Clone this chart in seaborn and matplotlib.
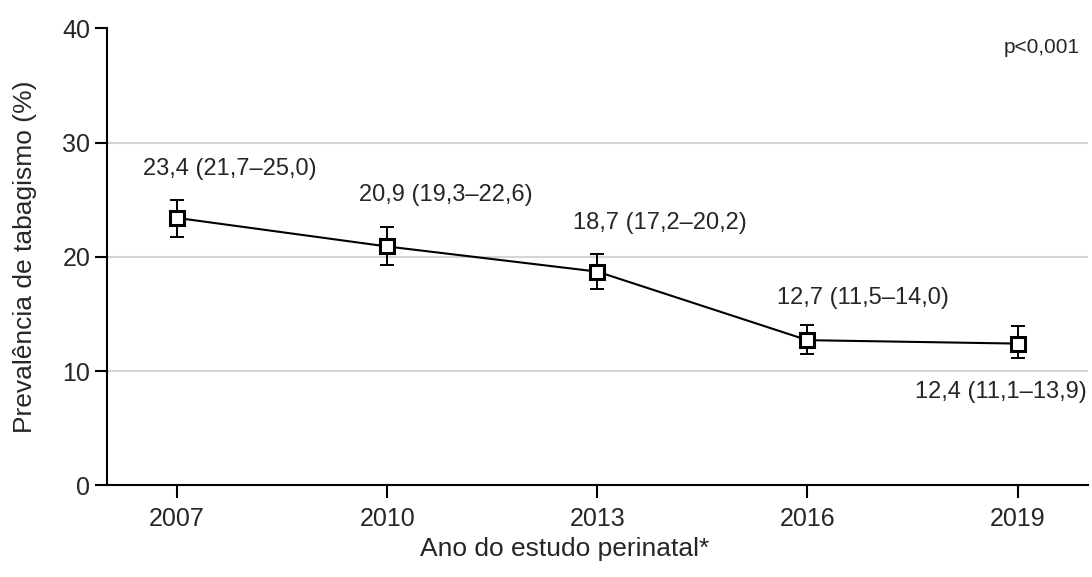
import matplotlib
matplotlib.use("Agg")
import matplotlib.pyplot as plt
import seaborn as sns
import pandas as pd

years = [2007, 2010, 2013, 2016, 2019]
prevalence = [23.4, 20.9, 18.7, 12.7, 12.4]
ci_low = [21.7, 19.3, 17.2, 11.5, 11.1]
ci_high = [25.0, 22.6, 20.2, 14.0, 13.9]
labels = ["23,4 (21,7–25,0)", "20,9 (19,3–22,6)", "18,7 (17,2–20,2)",
          "12,7 (11,5–14,0)", "12,4 (11,1–13,9)"]

# label offsets in points from each marker
offsets = [(38, 35), (42, 37), (45, 35), (40, 30), (-12, -35)]

df = pd.DataFrame({"ano": years, "prev": prevalence})

sns.set_style("white")
plt.rcParams["font.family"] = ["Liberation Sans", "DejaVu Sans"]

fig = plt.figure(figsize=(10.92, 5.77), dpi=100)
ax = fig.add_axes([0.098, 0.159, 0.898, 0.792])

for y in [10, 20, 30]:
    ax.axhline(y, color="#d4d4d4", lw=1.5, zorder=0)

err_lo = [p - l for p, l in zip(prevalence, ci_low)]
err_hi = [h - p for p, h in zip(prevalence, ci_high)]
ax.errorbar(years, prevalence, yerr=[err_lo, err_hi], fmt="none",
            ecolor="black", elinewidth=1.4, capsize=5, capthick=1.4, zorder=2)

sns.lineplot(data=df, x="ano", y="prev", ax=ax, color="black", lw=1.5,
             marker="s", markersize=10, markerfacecolor="white",
             markeredgecolor="black", markeredgewidth=2.2, zorder=3)

for x, y, txt, off in zip(years, prevalence, labels, offsets):
    ax.annotate(txt, (x, y), xytext=off, textcoords="offset points",
                ha="center", va="center", fontsize=17)

ax.text(0.992, 0.958, "p<0,001", transform=ax.transAxes, ha="right",
        va="center", fontsize=15)

ax.set_xlim(2006, 2020)
ax.set_ylim(0, 40)
ax.set_xticks(years)
ax.set_yticks([0, 10, 20, 30, 40])
ax.tick_params(axis="both", direction="out", length=9, width=1.5,
               labelsize=18, color="black", bottom=True, left=True)
ax.tick_params(axis="x", pad=7)
ax.tick_params(axis="y", pad=3)
sns.despine(ax=ax)
for s in ["left", "bottom"]:
    ax.spines[s].set_color("black")
    ax.spines[s].set_linewidth(1.5)

ax.set_xlabel("Ano do estudo perinatal*", fontsize=19)
ax.set_ylabel("Prevalência de tabagismo (%)", fontsize=19)
ax.xaxis.set_label_coords(0.467, -0.113)
ax.yaxis.set_label_coords(-0.071, 0.5)

fig.savefig("out.png", dpi=100)
